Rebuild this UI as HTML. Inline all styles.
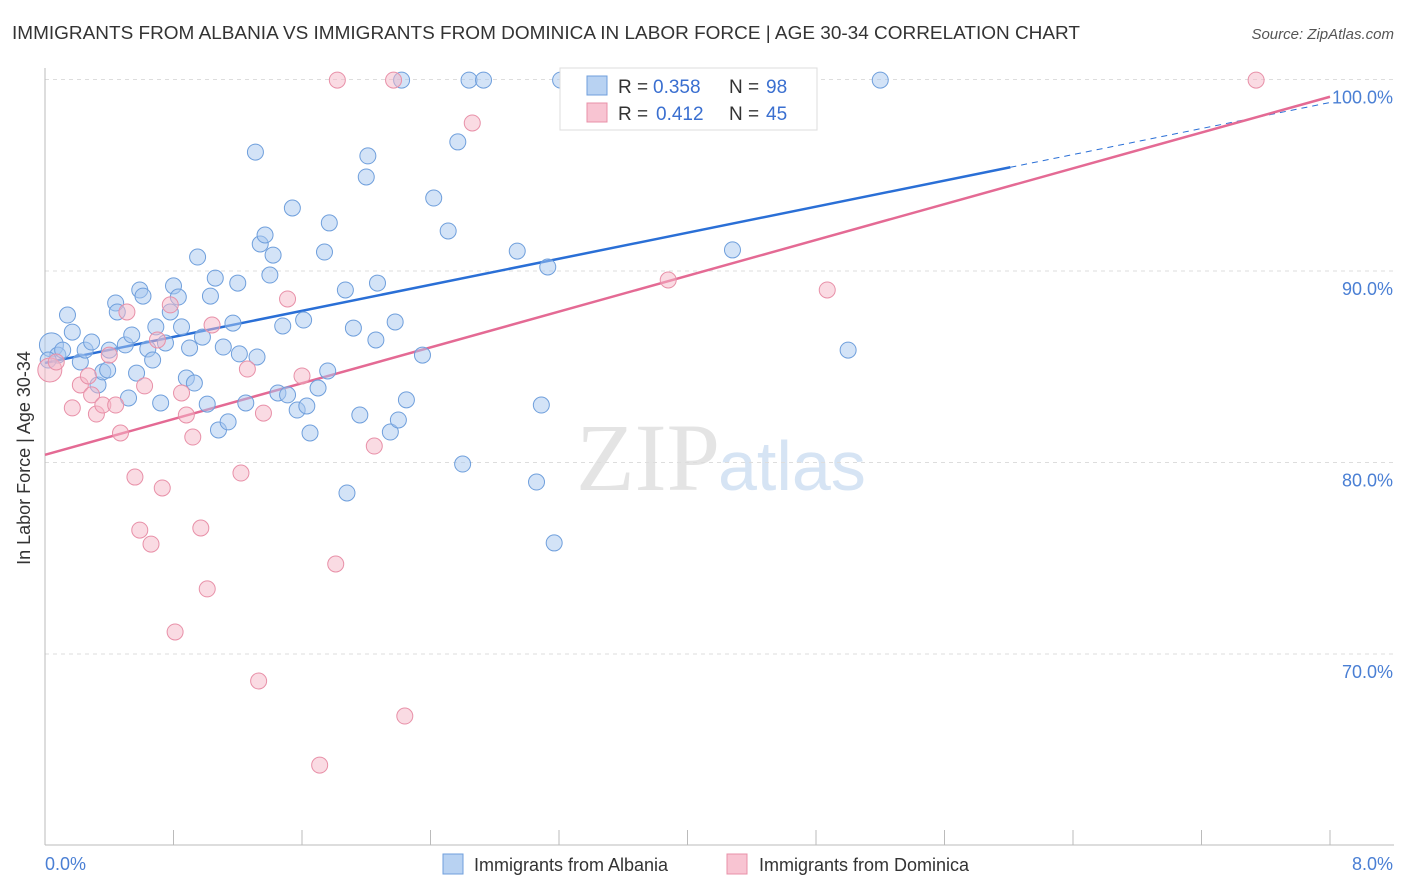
<!DOCTYPE html>
<html><head><meta charset="utf-8"><style>
body{margin:0;background:#fff;font-family:"Liberation Sans",sans-serif;}
svg{display:block}
</style></head><body>
<svg id="c" width="1406" height="892" font-family="Liberation Sans, sans-serif">
<text x="12" y="39" font-size="18" fill="#333" textLength="1068" lengthAdjust="spacingAndGlyphs">IMMIGRANTS FROM ALBANIA VS IMMIGRANTS FROM DOMINICA IN LABOR FORCE | AGE 30-34 CORRELATION CHART</text>
<text x="1394" y="39" font-size="15" fill="#555" font-style="italic" text-anchor="end">Source: ZipAtlas.com</text>
<text x="720" y="490" font-size="96" fill="#e4e4e4" text-anchor="end" font-family="Liberation Serif, serif">ZIP</text>
<text x="718" y="490" font-size="70" fill="#d6e4f4">atlas</text>
<g id="grid"></g><g id="axes"></g><g id="trends"></g><g id="pts"></g>
<text x="30" y="458" font-size="18" fill="#333" text-anchor="middle" transform="rotate(-90 30 458)">In Labor Force | Age 30-34</text>
<text x="45" y="870" font-size="18" fill="#4a7fd4">0.0%</text>
<text x="1393" y="870" font-size="18" fill="#4a7fd4" text-anchor="end">8.0%</text>
<g>
<rect x="560" y="68" width="257" height="62" fill="#fff" stroke="#ddd"/>
<rect x="587" y="76" width="20" height="19" fill="#b8d2f2" stroke="#6f9fdc"/>
<rect x="587" y="103" width="20" height="19" fill="#f8c4d2" stroke="#e890a8"/>
<text x="618" y="93" font-size="19" fill="#333">R =</text><text x="653" y="93" font-size="19" fill="#3a6fd0">0.358</text>
<text x="729" y="93" font-size="19" fill="#333">N =</text><text x="766" y="93" font-size="19" fill="#3a6fd0">98</text>
<text x="618" y="120" font-size="19" fill="#333">R =</text><text x="656" y="120" font-size="19" fill="#3a6fd0">0.412</text>
<text x="729" y="120" font-size="19" fill="#333">N =</text><text x="766" y="120" font-size="19" fill="#3a6fd0">45</text>
</g>
<g><rect x="443" y="854" width="20" height="20" fill="#b8d2f2" stroke="#6f9fdc"/><text x="474" y="871" font-size="18" fill="#333">Immigrants from Albania</text></g>
<g><rect x="727" y="854" width="20" height="20" fill="#f8c4d2" stroke="#e890a8"/><text x="759" y="871" font-size="18" fill="#333">Immigrants from Dominica</text></g>
</svg>
<script>
const yTicks=[100,90,80,70];
const yTickLabels=["100.0%","90.0%","80.0%","70.0%"];
const xTicks=[0,0.8,1.6,2.4,3.2,4,4.8,5.6,6.4,7.2,8];
const albaniaX=[0.04,0.08,0.02,0.11,0.14,0.17,0.22,0.25,0.29,0.33,0.36,0.39,0.40,0.44,0.45,0.50,0.52,0.54,0.57,0.59,0.61,0.64,0.67,0.69,0.72,0.75,0.78,0.80,0.83,0.85,0.88,0.90,0.93,0.95,0.98,1.01,1.03,1.06,1.08,1.11,1.14,1.17,1.20,1.21,1.25,1.31,1.32,1.34,1.37,1.40,1.42,1.45,1.48,1.51,1.54,1.57,1.61,1.63,1.65,1.70,1.74,1.76,1.77,1.87,1.88,1.92,1.96,2.00,2.01,2.06,2.07,2.15,2.18,2.20,2.25,2.22,2.35,2.42,2.51,2.60,2.64,2.73,2.57,2.94,3.06,3.09,3.13,3.17,3.21,4.28,5.00,5.20,3.64,3.75];
const albaniaY=[86.14,85.61,85.35,85.87,87.70,86.81,85.25,85.87,86.29,84.05,84.73,84.83,85.87,88.33,87.86,86.14,83.37,86.66,84.67,89.01,88.69,85.93,85.35,87.08,83.11,86.24,87.86,89.22,88.64,87.08,84.41,85.98,84.15,90.73,86.55,83.05,88.69,89.63,81.70,86.03,82.12,87.28,89.37,85.67,83.11,96.21,85.51,91.41,91.88,89.79,90.83,83.63,87.13,83.53,93.29,82.74,87.44,82.95,81.54,83.89,90.99,84.78,92.51,89.01,78.41,87.02,82.48,94.91,96.01,86.40,89.37,81.59,87.34,82.22,83.27,99.97,85.61,93.81,92.09,79.92,99.97,99.97,96.74,91.04,78.98,83.00,90.21,75.80,99.97,91.10,85.87,99.97,99.97,99.97];
const dominicaX=[0.03,0.07,0.17,0.22,0.27,0.29,0.32,0.36,0.40,0.44,0.47,0.51,0.56,0.59,0.62,0.66,0.70,0.73,0.78,0.81,0.85,0.88,0.92,0.97,1.01,1.04,1.22,1.26,1.33,1.36,1.51,1.60,1.71,1.81,1.82,2.05,2.17,2.24,2.66,3.88,4.18,4.87,7.54];
const dominicaY=[84.83,85.25,82.85,84.05,84.52,83.53,82.53,83.00,85.61,83.00,81.54,87.86,79.24,76.47,84.00,75.74,86.40,78.67,88.23,71.15,83.63,82.48,81.33,76.58,73.40,87.18,79.45,84.88,68.59,82.58,88.54,84.52,64.20,74.70,99.97,80.86,99.97,66.76,97.73,89.53,99.97,89.01,99.97];
const albaniaTrend=[85.2,98.8];
const dominicaTrend=[80.4,99.1];
const NS="http://www.w3.org/2000/svg";
const sx=v=>45+v/8*1285;
const sy=v=>79.5+(100-v)*19.15;
function mk(t,a,p){const e=document.createElementNS(NS,t);for(const k in a)e.setAttribute(k,a[k]);p.appendChild(e);return e;}
const grid=document.getElementById('grid'),axes=document.getElementById('axes'),tr=document.getElementById('trends'),pts=document.getElementById('pts');
yTicks.forEach((v,i)=>{
 const l=mk('line',{x1:45,x2:1394,y1:sy(v),y2:sy(v),stroke:'#ddd','stroke-dasharray':'4,4'},grid);
 
 
 const t=mk('text',{x:1393,y:sy(v)+24,'font-size':18,fill:'#4a7fd4','text-anchor':'end'},grid);
 t.textContent=yTickLabels[i];
 
 
});
const ya=mk('line',{x1:45,x2:45,y1:68,y2:845,stroke:'#bbb'},axes);


const xa=mk('line',{x1:45,x2:1394,y1:845,y2:845,stroke:'#bbb'},axes);


xTicks.forEach(v=>{
 const t=mk('line',{x1:sx(v),x2:sx(v),y1:830,y2:845,stroke:'#bbb'},axes);
 
 
});
function dots(X,Y,fill,stroke,name){
 X.forEach((x,i)=>{
  const c=mk('circle',{cx:sx(x),cy:sy(Y[i]),r:i===0?12:8,fill:fill,'fill-opacity':0.5,stroke:stroke,'stroke-width':1},pts);
  
  
 });
}
dots(albaniaX,albaniaY,'#a8c8f0','#6f9fdc','albania-point');
dots(dominicaX,dominicaY,'#f5b8c8','#e890a8','dominica-point');
const bs=6.01,yb=x=>albaniaTrend[0]+(albaniaTrend[1]-albaniaTrend[0])*x/8;
const b1=mk('line',{x1:sx(0),y1:sy(yb(0)),x2:sx(bs),y2:sy(yb(bs)),stroke:'#2a6fd6','stroke-width':2.5},tr);


const b2=mk('line',{x1:sx(bs),y1:sy(yb(bs)),x2:sx(8),y2:sy(yb(8)),stroke:'#2a6fd6','stroke-width':1,'stroke-dasharray':'6,5'},tr);


const p1=mk('line',{x1:sx(0),y1:sy(dominicaTrend[0]),x2:sx(8),y2:sy(dominicaTrend[1]),stroke:'#e46a94','stroke-width':2.5},tr);


</script>
</body></html>
